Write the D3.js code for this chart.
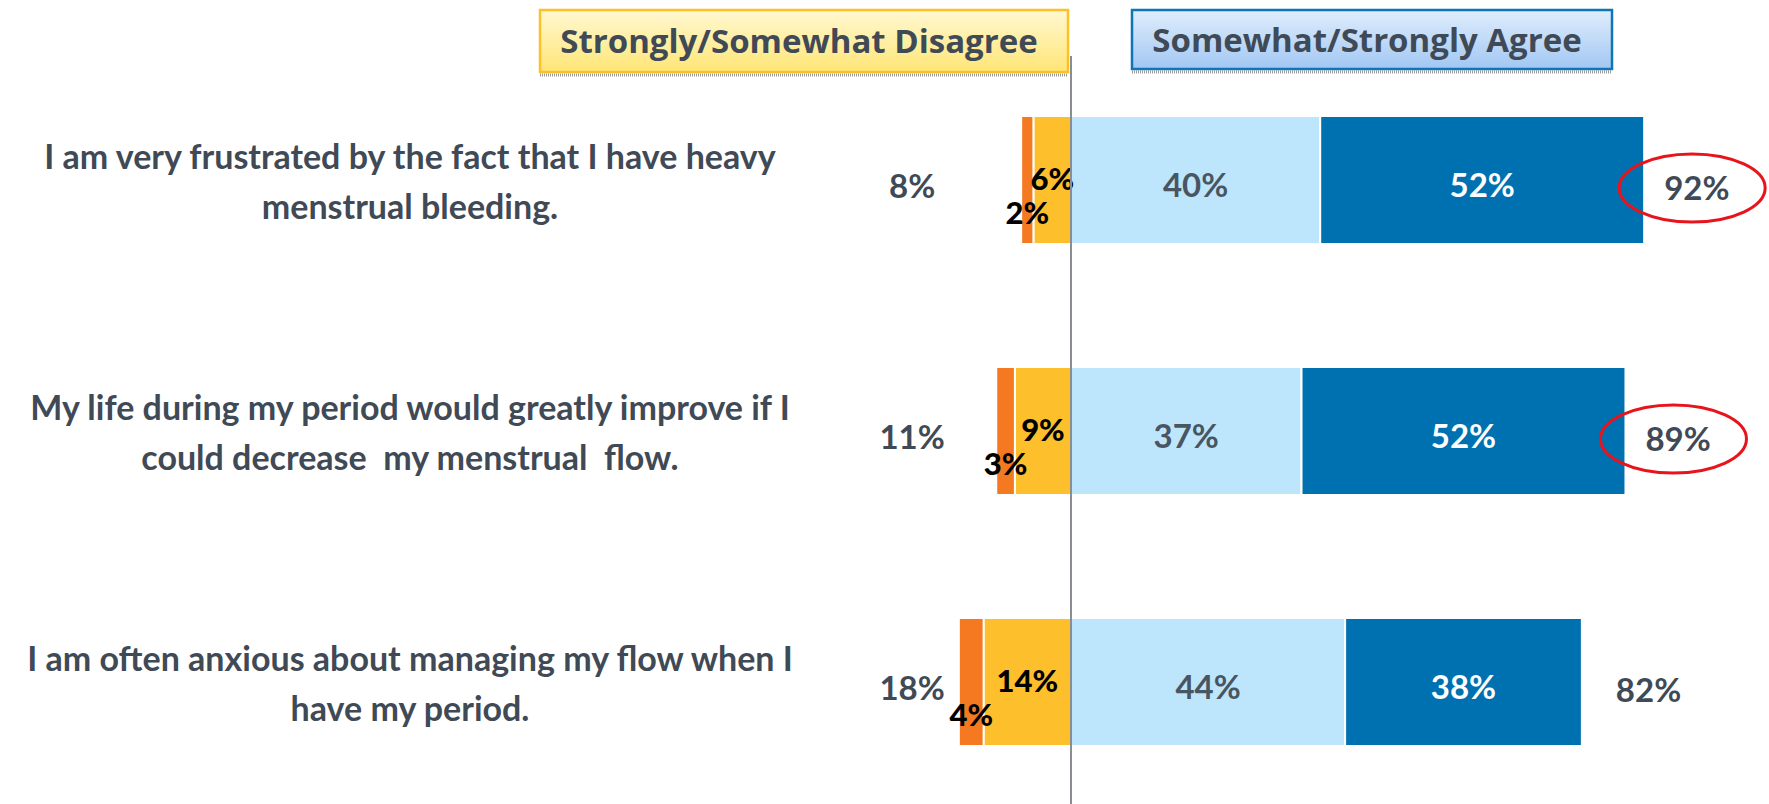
<!DOCTYPE html>
<html>
<head>
<meta charset="utf-8">
<script src="https://cdn.jsdelivr.net/npm/d3@7"></script>
<style>
  body { margin: 0; background: #fff; }
  text { font-family: Lato, "Open Sans", sans-serif; }
  text.cat { white-space: pre; }
</style>
</head>
<body>
<div id="container"></div>
<script>
// statements, already broken the way they wrap on the slide
var statements = [
  ["I am very frustrated by the fact that I have heavy", "menstrual bleeding."],
  ["My life during my period would greatly improve if I", "could decrease  my menstrual  flow."],
  ["I am often anxious about managing my flow when I", "have my period."]
];
var stronglyDisagree = [2, 3, 4];
var somewhatDisagree = [6, 9, 14];
var somewhatAgree = [40, 37, 44];
var stronglyAgree = [52, 52, 38];
var totalDisagree = [8, 11, 18];
var totalAgree = [92, 89, 82];
var circled = [true, true, false];
var headers = ["Strongly/Somewhat Disagree", "Somewhat/Strongly Agree"];

//----------------------------SETUP-----------------------------//
const width = 1769;
const height = 804;
const textColor = "#3f4a56";

const svg = d3.select("div#container").append("svg")
    .attr("width", width)
    .attr("height", height);

const x = d3.scaleLinear().domain([-20, 100]).range([946.4, 1694]);
const y = d3.scaleBand().domain(d3.range(statements.length))
    .range([116, 746]).paddingInner(0.49);

const rows = statements.map(function(s, i) {
  var segs = [
    {key: "sd", v: stronglyDisagree[i], x0: -(stronglyDisagree[i] + somewhatDisagree[i]), color: "#f47920"},
    {key: "swd", v: somewhatDisagree[i], x0: -somewhatDisagree[i], color: "#fdbf2b"},
    {key: "swa", v: somewhatAgree[i], x0: 0, color: "#bde6fc"},
    {key: "sa", v: stronglyAgree[i], x0: somewhatAgree[i], color: "#0071b0"}
  ];
  return {i: i, lines: s, segs: segs};
});

//---------------------------HEADERS----------------------------//
const defs = svg.append("defs");
function grad(id, top, bottom) {
  const g = defs.append("linearGradient").attr("id", id)
      .attr("x1", 0).attr("y1", 0).attr("x2", 0).attr("y2", 1);
  g.append("stop").attr("offset", "0%").attr("stop-color", top);
  g.append("stop").attr("offset", "100%").attr("stop-color", bottom);
}
grad("gy", "#fff8d2", "#ffe676");
grad("gb", "#e0eefc", "#a2c7f3");

const boxes = [
  {x: 540, w: 528, h: 62, fill: "url(#gy)", stroke: "#fdc026", text: headers[0]},
  {x: 1132, w: 480, h: 59, fill: "url(#gb)", stroke: "#0f75b6", text: headers[1]}
];
const hb = svg.selectAll("g.hdr").data(boxes).enter().append("g").attr("class", "hdr");
hb.append("line")
    .attr("x1", d => d.x).attr("x2", d => d.x + d.w)
    .attr("y1", d => 10 + d.h + 3).attr("y2", d => 10 + d.h + 3)
    .attr("stroke", "#9a9a9a").attr("stroke-width", 3)
    .attr("stroke-dasharray", "1,1");
hb.append("rect")
    .attr("x", d => d.x).attr("y", 10)
    .attr("width", d => d.w).attr("height", d => d.h)
    .attr("fill", d => d.fill).attr("stroke", d => d.stroke)
    .attr("stroke-width", 2.5);
hb.append("text")
    .attr("x", d => d.x + d.w / 2 - 5).attr("y", d => 10 + d.h / 2 + 12)
    .attr("text-anchor", "middle")
    .style("font-family", "'Open Sans', sans-serif")
    .attr("font-size", 33).attr("font-weight", 700)
    .attr("fill", textColor)
    .text(d => d.text);

//-----------------------------BARS-----------------------------//
const g = svg.selectAll("g.row").data(rows).enter().append("g").attr("class", "row");

g.selectAll("rect").data(d => d.segs.map(s => Object.assign({row: d.i}, s)))
  .enter().append("rect")
    .attr("x", d => x(d.x0))
    .attr("y", d => y(d.row))
    .attr("width", d => x(d.x0 + d.v) - x(d.x0))
    .attr("height", y.bandwidth())
    .attr("fill", d => d.color)
    .attr("stroke", "#fff")
    .attr("stroke-width", 2);

// zero line
svg.append("line")
    .attr("x1", x(0)).attr("x2", x(0))
    .attr("y1", 56).attr("y2", height)
    .attr("stroke", "#8a8d91").attr("stroke-width", 2);

//----------------------------LABELS----------------------------//
g.selectAll("text.seg").data(d => d.segs.map(s => Object.assign({row: d.i}, s)))
  .enter().append("text")
    .attr("class", "seg")
    .attr("x", d => x(d.x0 + d.v / 2))
    .attr("y", function(d) {
      var c = y(d.row) + y.bandwidth() / 2;
      if (d.key == "sd") return c + 44;
      if (d.key == "swd") return c + 10;
      return c + 17;
    })
    .attr("text-anchor", "middle")
    .attr("font-size", d => (d.key == "sd" || d.key == "swd") ? 31 : 33)
    .attr("font-weight", d => (d.key == "sd" || d.key == "swd") ? 900 : 700)
    .attr("fill", function(d) {
      if (d.key == "sa") return "#fff";
      if (d.key == "swa") return "#4a5562";
      return "#000";
    })
    .text(d => d.v + "%");

// totals
g.append("text")
    .attr("x", x(-25.5))
    .attr("y", d => y(d.i) + y.bandwidth() / 2 + 18)
    .attr("text-anchor", "middle")
    .attr("font-size", 33).attr("font-weight", 700)
    .attr("fill", textColor)
    .text(d => totalDisagree[d.i] + "%");

g.append("text")
    .attr("x", d => x(totalAgree[d.i]) + (circled[d.i] ? 20 : 34))
    .attr("y", d => y(d.i) + y.bandwidth() / 2 + 20)
    .attr("font-size", 33).attr("font-weight", 700)
    .attr("fill", textColor)
    .text(d => totalAgree[d.i] + "%");

g.filter(d => circled[d.i]).append("ellipse")
    .attr("cx", d => x(totalAgree[d.i]) + 48)
    .attr("cy", d => y(d.i) + y.bandwidth() / 2 + 8)
    .attr("rx", 73).attr("ry", 34)
    .attr("fill", "none")
    .attr("stroke", "#e8141c").attr("stroke-width", 3);

// statements
g.selectAll("text.cat").data(d => d.lines.map((l, k) => ({row: d.i, k: k, t: l})))
  .enter().append("text")
    .attr("class", "cat")
    .attr("x", 410)
    .attr("y", d => y(d.row) + y.bandwidth() / 2 - 11 + d.k * 50)
    .attr("text-anchor", "middle")
    .attr("font-size", 34).attr("font-weight", 700)
    .attr("fill", textColor)
    .text(d => d.t);
</script>
</body>
</html>
